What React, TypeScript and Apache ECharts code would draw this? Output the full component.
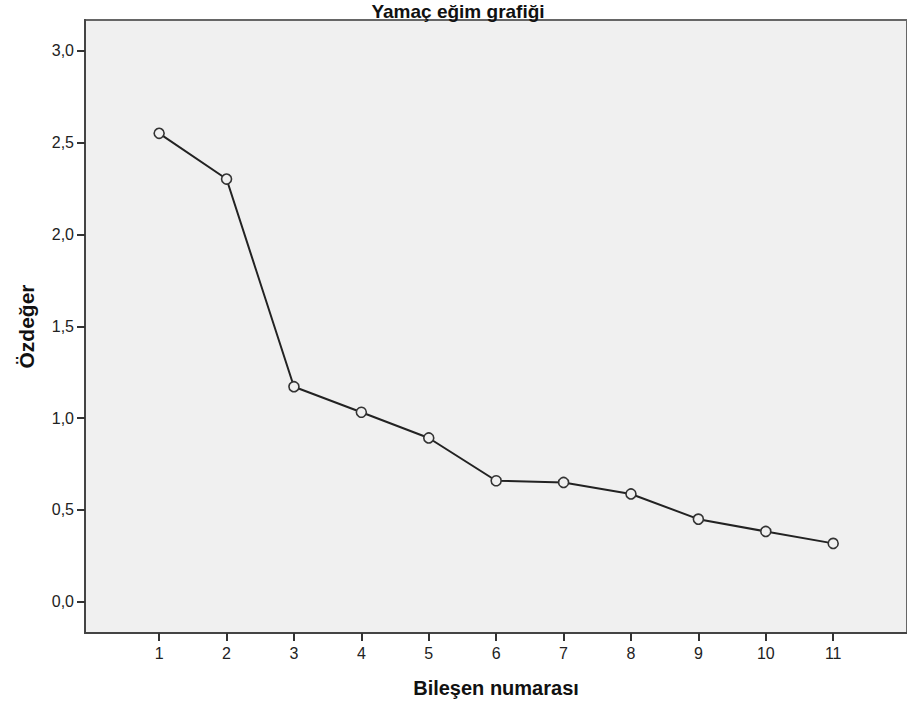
import React, { useEffect, useRef } from "react";
import * as echarts from "echarts";

const components = [1, 2, 3, 4, 5, 6, 7, 8, 9, 10, 11];
const eigenvalues = [2.551, 2.302, 1.171, 1.032, 0.892, 0.659, 0.65, 0.587, 0.45, 0.383, 0.318];
const yTicks = [0, 0.5, 1.0, 1.5, 2.0, 2.5, 3.0];
const titleText = "Yamaç eğim grafiği";
const xName = "Bileşen numarası";
const yName = "Özdeğer";

export default function App() {
  const ref = useRef<HTMLDivElement>(null);
  useEffect(() => {
    if (!ref.current) return;
    const chart = echarts.init(ref.current, null, { renderer: "svg" });
    const font = "Liberation Sans, Arial, sans-serif";
    chart.setOption({
      animation: false,
      backgroundColor: "#ffffff",
      graphic: [
        {
          type: "text",
          x: 458,
          y: 11,
          style: {
            text: titleText,
            font: `bold 19px ${font}`,
            fill: "#111",
            textAlign: "center",
            textVerticalAlign: "middle",
          },
          z: 100,
        },
      ],
      grid: {
        left: 85,
        right: -2,
        top: 20,
        bottom: 72,
        show: true,
        backgroundColor: "#f0f0f0",
        borderColor: "#666",
        borderWidth: 2,
      },
      xAxis: {
        type: "value",
        min: -0.1,
        max: 12.095,
        name: xName,
        nameLocation: "middle",
        nameGap: 45,
        nameTextStyle: { fontFamily: font, fontWeight: "bold", fontSize: 20, color: "#111" },
        axisLine: { show: true, onZero: false, lineStyle: { color: "#444", width: 2 } },
        axisTick: { show: true, length: 8, lineStyle: { color: "#333", width: 2 }, customValues: components },
        axisLabel: {
          customValues: components,
          fontFamily: font,
          fontSize: 16,
          color: "#222",
          margin: 12,
        },
        splitLine: { show: false },
      },
      yAxis: {
        type: "value",
        min: -0.17,
        max: 3.168,
        name: yName,
        nameLocation: "middle",
        nameGap: 48,
        nameTextStyle: { fontFamily: font, fontWeight: "bold", fontSize: 21, color: "#111" },
        axisLine: { show: true, onZero: false, lineStyle: { color: "#444", width: 2 } },
        axisTick: { show: true, length: 8, lineStyle: { color: "#333", width: 2 }, customValues: yTicks },
        axisLabel: {
          customValues: yTicks,
          fontFamily: font,
          fontSize: 16,
          color: "#222",
          margin: 11,
          formatter: (v: number) => v.toFixed(1).replace(".", ","),
        },
        splitLine: { show: false },
      },
      series: [
        {
          type: "line",
          data: components.map((c, i) => [c, eigenvalues[i]]),
          symbol: "circle",
          symbolSize: 10,
          showAllSymbol: true,
          lineStyle: { color: "#222", width: 2 },
          itemStyle: { color: "#f0f0f0", borderColor: "#333", borderWidth: 1.6 },
        },
      ],
    });
    return () => chart.dispose();
  }, []);
  return (
    <div
      ref={ref}
      style={{ position: "absolute", left: 0, top: 0, width: 907, height: 705 }}
    />
  );
}
